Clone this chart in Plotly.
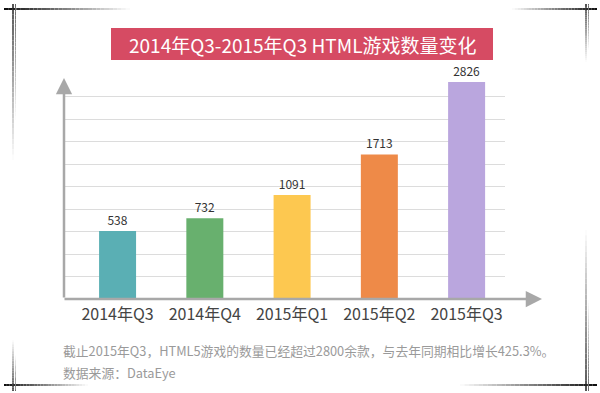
import plotly.graph_objects as go

# ---- data ----
categories = ["2014年Q3", "2014年Q4", "2015年Q1", "2015年Q2", "2015年Q3"]
values = [538, 732, 1091, 1713, 2826]
bar_colors = ["#5AAFB4", "#68B06E", "#FDC850", "#EE8A48", "#BAA6DE"]
title_text = "2014年Q3-2015年Q3 HTML游戏数量变化"
note_line1 = "截止2015年Q3，HTML5游戏的数量已经超过2800余款，与去年同期相比增长425.3%。"
note_line2 = "数据来源：DataEye"

# ---- layout geometry (pixels) ----
W, H = 600, 393
L, R, T, B = 64, 505, 80, 299
Y_MIN, Y_MAX = -507, 2857
GRID_STEP = 345

def px(x):
    return (x - L) / (R - L)

def py(y):
    return (B - y) / (B - T)

FONT = "Noto Sans CJK SC, Noto Sans, sans-serif"

fig = go.Figure()
fig.add_trace(go.Bar(
    x=categories,
    y=[v - Y_MIN for v in values],
    base=Y_MIN,
    width=0.424,
    marker=dict(color=bar_colors, line=dict(width=0)),
    text=[str(v) for v in values],
    textposition="outside",
    textfont=dict(family=FONT, size=12, color="#333333"),
    cliponaxis=False,
    hoverinfo="skip",
))

shapes = []
# title banner
shapes.append(dict(type="rect", xref="paper", yref="paper",
                   x0=px(111), x1=px(493), y0=py(60), y1=py(28),
                   fillcolor="#D64B63", line=dict(width=0), layer="above"))

# decorative frame with fading lines
def fade_line(x0, y0, x1, y1, d0, d1, width=2, n=30):
    for i in range(n):
        t0 = i / n
        t1 = (i + 1) / n
        t = (t0 + t1) / 2
        d = d0 + (d1 - d0) * t
        g = int(255 * (1 - d))
        col = f"rgb({g},{g},{g})"
        shapes.append(dict(type="line", xref="paper", yref="paper",
                           x0=px(x0 + (x1 - x0) * t0), x1=px(x0 + (x1 - x0) * t1),
                           y0=py(y0 + (y1 - y0) * t0), y1=py(y0 + (y1 - y0) * t1),
                           line=dict(color=col, width=width), layer="above"))

# top-left
fade_line(4, 9, 130, 9, 0.95, 0.0, 2)
fade_line(13, 4, 13, 160, 0.9, 0.0, 1.5)
fade_line(15.5, 4, 15.5, 120, 0.6, 0.0, 1)
# top-right
fade_line(512, 9, 597, 9, 0.0, 0.95, 2)
fade_line(586, 4, 586, 62, 0.9, 0.0, 1.5)
fade_line(588.5, 4, 588.5, 50, 0.6, 0.0, 1)
# bottom-left
fade_line(4, 385, 88, 385, 0.95, 0.0, 2)
fade_line(13, 340, 13, 391, 0.0, 0.9, 1.5)
fade_line(15.5, 355, 15.5, 391, 0.0, 0.6, 1)
# bottom-right
fade_line(460, 385, 597, 385, 0.0, 0.95, 2)
fade_line(586, 230, 586, 391, 0.0, 0.9, 1.5)
fade_line(588.5, 300, 588.5, 391, 0.0, 0.6, 1)

annotations = [
    dict(text=title_text, xref="paper", yref="paper", x=px(302), y=py(44),
         showarrow=False, font=dict(family=FONT, size=19, color="white"),
         xanchor="center", yanchor="middle"),
    dict(text=note_line1, xref="paper", yref="paper", x=px(61), y=py(350),
         showarrow=False, font=dict(family=FONT, size=12.8, color="#9a9a9a"),
         xanchor="left", yanchor="middle"),
    dict(text=note_line2, xref="paper", yref="paper", x=px(61), y=py(372),
         showarrow=False, font=dict(family=FONT, size=12.8, color="#9a9a9a"),
         xanchor="left", yanchor="middle"),
    # y-axis arrow
    dict(text="", xref="paper", yref="paper", x=0, y=py(78),
         ax=0, ay=221, showarrow=True, arrowhead=2, arrowsize=1.3,
         arrowwidth=2.5, arrowcolor="#A8A8A8"),
    # x-axis arrow
    dict(text="", xref="paper", yref="paper", x=px(542), y=0,
         ax=-(542 - 63), ay=0, showarrow=True, arrowhead=2, arrowsize=1.3,
         arrowwidth=2.5, arrowcolor="#A8A8A8"),
]

fig.update_layout(
    width=W, height=H,
    margin=dict(l=L, r=W - R, t=T, b=H - B, pad=0),
    paper_bgcolor="white", plot_bgcolor="white",
    showlegend=False,
    bargap=0.5,
    shapes=shapes,
    annotations=annotations,
    xaxis=dict(type="category", range=[-0.614, 4.44], showgrid=False,
               showline=False, zeroline=False, ticks="outside", ticklen=1,
               tickcolor="rgba(0,0,0,0)",
               tickfont=dict(family=FONT, size=16, color="#444444"),
               fixedrange=True),
    yaxis=dict(range=[Y_MIN, Y_MAX], tick0=Y_MIN, dtick=GRID_STEP,
               showgrid=True, gridcolor="#DCDCDC", gridwidth=1,
               showticklabels=False, zeroline=False, showline=False,
               fixedrange=True),
)

fig.write_html(
    "out.html",
    config={"displayModeBar": False},
    post_script="document.body.style.margin='0';document.body.style.overflow='hidden';",
)
